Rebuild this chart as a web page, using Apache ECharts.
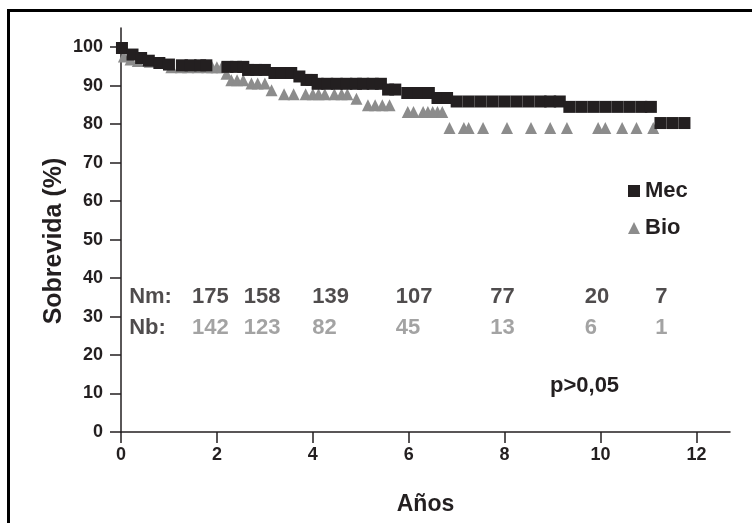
<!DOCTYPE html>
<html>
<head>
<meta charset="utf-8">
<script src="https://cdn.jsdelivr.net/npm/echarts@6/dist/echarts.min.js"></script>
<style>html,body{margin:0;padding:0;background:#fff}#c{width:752px;height:523px}</style>
</head>
<body>
<div id="c"></div>
<script>
// Censor marks, Mec (years, survival %)
var mecT = [0.02,0.24,0.42,0.58,0.8,1.0,1.27,1.45,1.65,1.78,2.22,2.4,2.55,2.65,2.82,3.0,3.2,3.35,3.55,3.72,3.87,3.98,4.1,4.3,4.5,4.7,4.9,5.05,5.25,5.42,5.57,5.72,5.97,6.2,6.42,6.6,6.8,7.0,7.25,7.5,7.75,8.0,8.25,8.5,8.75,8.95,9.15,9.35,9.6,9.85,10.1,10.35,10.6,10.85,11.05,11.25,11.5,11.75];
var mecS = [99.8,98.1,97.2,96.5,95.9,95.5,95.3,95.3,95.3,95.3,94.9,94.9,94.9,94.1,94.1,94.1,93.3,93.3,93.3,92.4,91.5,91.5,90.5,90.5,90.5,90.5,90.5,90.5,90.5,90.5,89.0,89.0,88.1,88.1,88.1,86.8,86.8,85.9,85.9,85.9,85.9,85.9,85.9,85.9,85.9,85.9,85.9,84.5,84.5,84.5,84.5,84.5,84.5,84.5,84.5,80.3,80.3,80.3];
// Censor marks, Bio
var bioT = [0.06,0.2,0.35,0.6,0.88,1.05,1.25,1.4,1.6,1.8,1.9,2.0,2.1,2.2,2.3,2.42,2.55,2.72,2.85,3.0,3.14,3.4,3.6,3.85,4.0,4.12,4.25,4.45,4.6,4.72,4.91,5.15,5.3,5.45,5.6,5.98,6.1,6.3,6.4,6.5,6.6,6.7,6.85,7.15,7.25,7.55,8.05,8.55,8.95,9.3,9.95,10.1,10.45,10.75,11.1];
var bioS = [97.6,96.8,96.4,96.2,96.0,94.8,94.8,94.8,94.8,94.8,94.8,94.8,94.8,93.1,91.4,91.4,91.4,90.6,90.6,90.6,88.8,87.8,87.8,87.8,87.8,87.8,87.8,87.8,87.8,87.8,86.6,84.9,84.9,84.9,84.9,83.2,83.2,83.2,83.2,83.2,83.2,83.2,79.0,79.0,79.0,79.0,79.0,79.0,79.0,79.0,79.0,79.0,79.0,79.0,79.0];
// Numbers at risk
var riskT = [1.48,2.56,3.99,5.73,7.7,9.67,11.14];
var nmRisk = [175,158,139,107,77,20,7];
var nbRisk = [142,123,82,45,13,6,1];
var xTicks = [0,2,4,6,8,10,12];
var yTicks = [0,10,20,30,40,50,60,70,80,90,100];

var FONT = "'Liberation Sans', Arial, sans-serif";
var INK = '#231f20';
var GREY = '#8c8c8c';

function pairs(t, s){ return t.map(function(v,i){ return [v, s[i]]; }); }
function riskData(label, counts, row){
  var d = [{value:[0.17,row], name:label, label:{color:INK}}];
  counts.forEach(function(c,i){ d.push({value:[riskT[i],row], name:String(c)}); });
  return d;
}

var chart = echarts.init(document.getElementById('c'), null, {renderer:'canvas'});
chart.setOption({
  animation:false,
  backgroundColor:'#fff',
  grid:{left:121, right:22, top:28, bottom:91, containLabel:false},
  xAxis:{
    type:'value', min:0, max:12.7,
    name:'Años', nameLocation:'middle', nameGap:61,
    nameTextStyle:{fontFamily:FONT, fontWeight:'bold', fontSize:23, color:INK},
    axisLine:{lineStyle:{color:INK, width:1.5}},
    axisTick:{show:true, length:11, customValues:xTicks, lineStyle:{color:INK, width:1.5}},
    axisLabel:{customValues:xTicks, margin:14, fontFamily:FONT, fontWeight:'bold', fontSize:18, color:INK},
    splitLine:{show:false}
  },
  yAxis:{
    type:'value', min:0, max:105,
    name:'Sobrevida (%)', nameLocation:'middle', nameGap:54, nameRotate:90, nameMoveOverlap:false,
    nameTextStyle:{fontFamily:FONT, fontWeight:'bold', fontSize:25, color:INK, padding:[0,22,0,0]},
    axisLine:{show:true, lineStyle:{color:INK, width:1.5}},
    axisTick:{show:true, length:11, customValues:yTicks, lineStyle:{color:INK, width:1.5}},
    axisLabel:{customValues:yTicks, margin:18, fontFamily:FONT, fontWeight:'bold', fontSize:18, color:INK},
    splitLine:{show:false}
  },
  legend:{
    orient:'vertical', left:623, top:175, itemWidth:12, itemHeight:12, itemGap:15,
    textStyle:{fontFamily:FONT, fontWeight:'bold', fontSize:22, color:INK},
    data:[{name:'Mec', icon:'rect'},{name:'Bio', icon:'triangle'}]
  },
  series:[
    {name:'Bio', type:'scatter', symbol:'triangle', symbolSize:12, itemStyle:{color:GREY, opacity:1}, data:pairs(bioT,bioS), z:2},
    {name:'Mec', type:'scatter', symbol:'rect', symbolSize:12, itemStyle:{color:INK, opacity:1}, data:pairs(mecT,mecS), z:3},
    {name:'nm', type:'scatter', symbolSize:0, silent:true,
     label:{show:true, position:'right', distance:0, formatter:'{b}', fontFamily:FONT, fontWeight:'bold', fontSize:22, color:INK},
     data:riskData('Nm:', nmRisk, 35.0)},
    {name:'nb', type:'scatter', symbolSize:0, silent:true,
     label:{show:true, position:'right', distance:0, formatter:'{b}', fontFamily:FONT, fontWeight:'bold', fontSize:22, color:GREY},
     data:riskData('Nb:', nbRisk, 27.0)}
  ],
  graphic:[
    {type:'polyline', shape:{points:[[8.5,523],[8.5,10.5],[752,10.5]]}, style:{stroke:'#000', lineWidth:3, fill:null}, silent:true},
    {type:'text', left:550, top:375, style:{text:'p>0,05', fontFamily:FONT, fontWeight:'bold', fontSize:22, fill:INK}}
  ]
});
</script>
</body>
</html>
